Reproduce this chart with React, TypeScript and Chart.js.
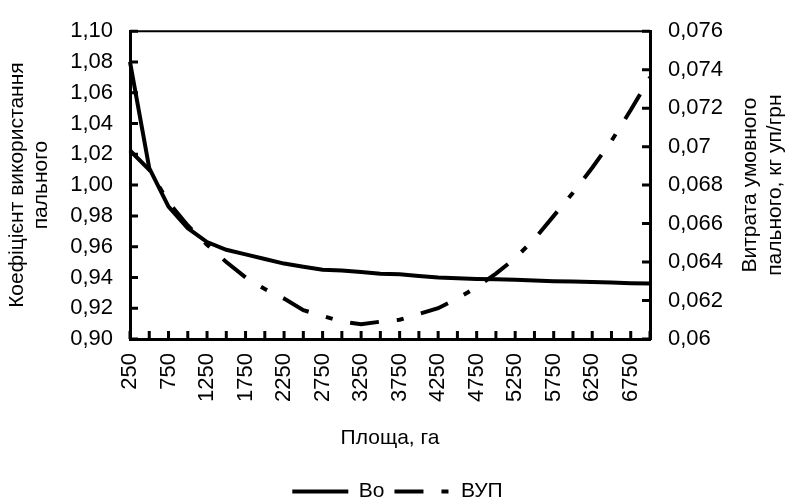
import React, { useEffect, useRef } from 'react';
import { Chart, registerables } from 'chart.js';

Chart.register(...registerables);

const areas = ['250', '500', '750', '1000', '1250', '1500', '1750', '2000', '2250', '2500', '2750', '3000', '3250', '3500', '3750', '4000', '4250', '4500', '4750', '5000', '5250', '5500', '5750', '6000', '6250', '6500', '6750', '7000'];

const boValues = [1.080, 1.011, 0.986, 0.972, 0.963, 0.958, 0.955, 0.952, 0.949, 0.947, 0.945, 0.9445, 0.9435, 0.9424, 0.942, 0.941, 0.940, 0.9394, 0.939, 0.9388, 0.9385, 0.938, 0.9376, 0.9373, 0.937, 0.9367, 0.9363, 0.936];

const vupValues = [0.0698, 0.0688, 0.0671, 0.0659, 0.0649, 0.0640, 0.0632, 0.0626, 0.0621, 0.0615, 0.0612, 0.0609, 0.06077, 0.0609, 0.0610, 0.0613, 0.0616, 0.0621, 0.0627, 0.0634, 0.0642, 0.0652, 0.0664, 0.0676, 0.0689, 0.0703, 0.0719, 0.0736];

const leftTitle = ['Коефіцієнт використання', 'пального'];
const rightTitle = ['Витрата умовного', 'пального, кг уп/грн'];
const xTitle = 'Площа, га';
const seriesNames = ['Во', 'ВУП'];

const FONT = '"Liberation Sans", Arial, sans-serif';
const FS = 21;
const TICK_FS = 22;
const VUP_DASH = [29, 18, 7, 18];

const decorPlugin = {
  id: 'decor',
  afterDraw(chart: any) {
    const { ctx, chartArea } = chart;
    const { left, right, top, bottom } = chartArea;
    const xs = chart.scales.x;
    const ys = chart.scales.y;
    const ys1 = chart.scales.y1;
    ctx.save();
    ctx.strokeStyle = '#000';
    ctx.lineWidth = 2;
    ctx.beginPath();
    ctx.moveTo(left, top);
    ctx.lineTo(right, top);
    ctx.stroke();
    ctx.lineWidth = 3;
    ctx.beginPath();
    xs.ticks.forEach((_: any, i: number) => {
      const px = xs.getPixelForTick(i);
      ctx.moveTo(px, bottom);
      ctx.lineTo(px, bottom - 8);
    });
    ys.ticks.forEach((_: any, i: number) => {
      const py = ys.getPixelForTick(i);
      ctx.moveTo(left, py);
      ctx.lineTo(left + 8, py);
    });
    ys1.ticks.forEach((_: any, i: number) => {
      const py = ys1.getPixelForTick(i);
      ctx.moveTo(right, py);
      ctx.lineTo(right - 8, py);
    });
    ctx.stroke();
    ctx.fillStyle = '#000';
    ctx.font = `${FS}px ${FONT}`;
    ctx.textAlign = 'center';
    ctx.textBaseline = 'middle';
    const cy = (top + bottom) / 2;
    rightTitle.forEach((t, i) => {
      ctx.save();
      ctx.translate(right + 100 + i * 25, cy);
      ctx.rotate(-Math.PI / 2);
      ctx.fillText(t, 0, 0);
      ctx.restore();
    });
    ctx.restore();
  },
};

export default function App() {
  const ref = useRef<HTMLCanvasElement | null>(null);

  useEffect(() => {
    if (!ref.current) return;
    const chart = new Chart(ref.current, {
      type: 'line',
      data: {
        labels: areas,
        datasets: [
          {
            label: seriesNames[0],
            data: boValues,
            borderColor: '#000',
            backgroundColor: '#000',
            borderWidth: 4,
            pointRadius: 0,
            tension: 0,
            yAxisID: 'y',
          },
          {
            label: seriesNames[1],
            data: vupValues,
            borderColor: '#000',
            backgroundColor: '#000',
            borderWidth: 4,
            borderDash: VUP_DASH,
            borderCapStyle: 'butt',
            pointRadius: 0,
            tension: 0,
            yAxisID: 'y1',
          },
        ],
      },
      options: {
        responsive: false,
        animation: false,
        layout: { padding: { top: 17, left: 0, right: 0, bottom: 0 } },
        plugins: {
          tooltip: { enabled: false },
          legend: {
            display: true,
            position: 'bottom',
            labels: {
              usePointStyle: true,
              pointStyle: 'line',
              pointStyleWidth: 56,
              padding: 10,
              color: '#000',
              font: { size: FS, family: FONT },
              generateLabels: (chart: any) =>
                chart.data.datasets.map((ds: any, i: number) => ({
                  text: ds.label,
                  fillStyle: '#000',
                  strokeStyle: '#000',
                  fontColor: '#000',
                  lineWidth: 4,
                  lineDash: ds.borderDash || [],
                  lineDashOffset: 0,
                  lineCap: 'butt',
                  pointStyle: 'line',
                  hidden: false,
                  datasetIndex: i,
                })),
            },
          },
        },
        scales: {
          x: {
            type: 'category',
            offset: false,
            grid: { display: false, drawTicks: false },
            border: { display: true, color: '#000', width: 3 },
            ticks: {
              autoSkip: false,
              maxRotation: 90,
              minRotation: 90,
              padding: 14,
              color: '#000',
              font: { size: TICK_FS, family: FONT },
              callback: (_v: any, i: number) => (i % 2 === 0 ? areas[i] : ''),
            },
            title: {
              display: true,
              text: xTitle,
              color: '#000',
              font: { size: FS, family: FONT },
              padding: { top: 0, bottom: 20 },
            },
            afterFit: (s: any) => {
              s.height = 132;
            },
          },
          y: {
            position: 'left',
            min: 0.9,
            max: 1.1,
            grid: { display: false, drawTicks: false },
            border: { display: true, color: '#000', width: 3 },
            ticks: {
              stepSize: 0.02,
              padding: 17,
              color: '#000',
              font: { size: TICK_FS, family: FONT },
              callback: (v: any) => Number(v).toFixed(2).replace('.', ','),
            },
            title: {
              display: true,
              text: leftTitle,
              color: '#000',
              font: { size: FS, family: FONT, lineHeight: 1.15 },
              padding: { top: 5, bottom: 0 },
            },
            afterFit: (s: any) => {
              s.width = 130;
            },
          },
          y1: {
            position: 'right',
            min: 0.06,
            max: 0.076,
            grid: { display: false, drawTicks: false },
            border: { display: true, color: '#000', width: 3 },
            ticks: {
              stepSize: 0.002,
              padding: 18,
              color: '#000',
              font: { size: TICK_FS, family: FONT },
              callback: (v: any) => String(parseFloat(Number(v).toFixed(3))).replace('.', ','),
            },
            afterFit: (s: any) => {
              s.width = 145;
            },
          },
        },
      },
      plugins: [decorPlugin],
    });
    return () => chart.destroy();
  }, []);

  return (
    <div style={{ position: 'fixed', left: 0, top: 0, width: 795, height: 503, overflow: 'hidden', background: '#fff' }}>
      <canvas ref={ref} width={795} height={512} style={{ display: 'block' }} />
    </div>
  );
}
